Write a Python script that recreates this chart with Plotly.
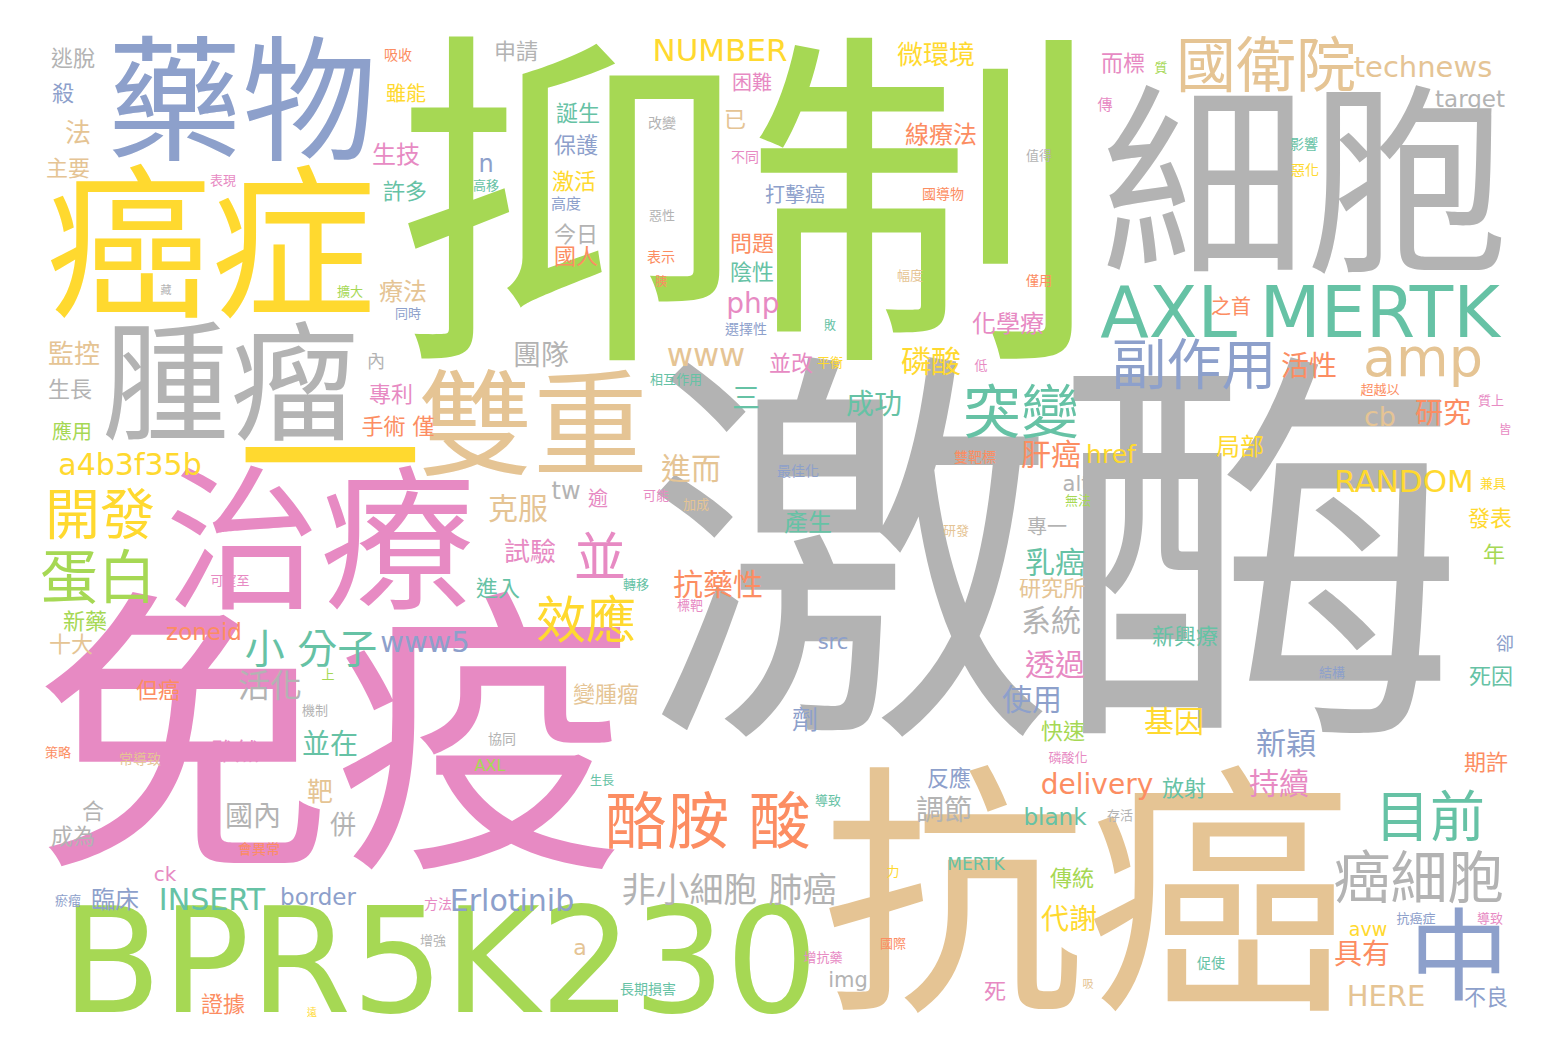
import plotly.graph_objects as go

# Set2 palette used by the word cloud
palette = {
    't': '#66c2a5', 'o': '#fc8d62', 'b': '#8da0cb', 'p': '#e78ac3',
    'g': '#a6d854', 'y': '#ffd92f', 'n': '#e5c494', 'a': '#b3b3b3',
}

# words
words = [
    '抑制', '激酶', '免疫', '抗癌', 'BPR5K230', '細胞', '藥物', '癌症', '腫瘤', '一',
    '治療', '雙重', 'AXL MERTK', '中', '國衛院', '副作用', 'amp', '突變', '酪胺 酸', '目前',
    '癌細胞', '開發', '蛋白', '並', '效應', '小 分子', '非小細胞 肺癌', 'a4b3f35b', 'technews', 'NUMBER',
    '活化', '抗藥性', '進而', '克服', '磷酸', '團隊', 'www', '成功', '三', '肝癌',
    '乳癌', '系統', '透過', '使用', '基因', '新穎', '持續', 'delivery', '調節', '代謝',
    '具有', 'HERE', 'INSERT', 'Erlotinib', 'www5', 'RANDOM', '研究', '活性', 'php', '微環境',
    '線療法', '化學療', '國內', '並在', '監控', '法', '試驗', 'tw', 'cb', '劑',
    '靶', '併', '生技', '療法', '產生', '局部', 'href', '臨床', 'border', '雖然',
    '新興療', '逃脫', '殺', '主要', '雖能', '許多', '申請', '誕生', '保護', '激活',
    '今日', '國人', '困難', '已', '打擊癌', '問題', '陰性', '而標', 'target', '之首',
    '生長', '專利', '手術 僅', '應用', '並改', '發表', '年', '死因', '新藥', 'zoneid',
    '十大', '但癌', '變腫瘤', '快速', '期許', '反應', '放射', 'blank', '合', '成為',
    '傳統', 'a', 'img', '死', '不良', '證據', '進入', 'n', '逾', 'alt',
    '專一', '研究所', 'src', 'ck', '內', '卻', 'avw', '高度', '傳', '吸收',
    '改變', '表示', '不同', '選擇性', '國導物', '影響', '惡化', '最佳化', '雙靶標', '協同',
    '常導致', '會異常', 'MERTK', '方法', '促使', '長期損害', '表現', '高移', '惡性', '值得',
    '幅度', '僅用', '質', '超越以', '質上', '兼具', '結構', '擴大', '同時', '相互作用',
    '平衡', '低', '可能', '加成', '無法', '研發', '可望至', '轉移', '標靶', '上',
    '機制', '策略', '磷酸化', 'AXL', '生長', '導致', '存活', '力', '瘀瘤', '抗癌症',
    '導致', '增強', '國際', '增抗藥', '吸', '遠', '胰', '敗', '皆', '藏',
]

# where each word sits in the 1548 x 1052 canvas
x_pos = [
    737, 1047, 325, 1078, 432, 1298, 234, 203, 222, 322,
    312, 525, 1292, 1451, 1258, 1186, 1415, 1013, 700, 1422,
    1411, 92, 90, 592, 578, 303, 721, 122, 1415, 712,
    262, 710, 683, 510, 923, 533, 698, 866, 738, 1043,
    1047, 1043, 1047, 1024, 1166, 1278, 1271, 1089, 936, 1061,
    1354, 1378, 204, 504, 417, 1396, 1435, 1301, 745, 928,
    933, 1000, 245, 322, 66, 70, 522, 558, 1372, 797,
    312, 335, 388, 395, 800, 1232, 1103, 107, 310, 227,
    1177, 65, 55, 60, 398, 397, 508, 570, 568, 566,
    568, 568, 744, 727, 787, 744, 744, 1115, 1462, 1223,
    62, 383, 390, 64, 783, 1482, 1486, 1483, 77, 196,
    63, 150, 598, 1055, 1478, 941, 1176, 1047, 85, 65,
    1064, 572, 840, 987, 1478, 215, 490, 478, 590, 1068,
    1039, 1044, 825, 157, 368, 1497, 1360, 558, 1097, 390,
    654, 653, 737, 738, 935, 1296, 1297, 790, 967, 494,
    132, 251, 968, 430, 1203, 640, 215, 478, 654, 1031,
    902, 1031, 1153, 1372, 1483, 1485, 1324, 342, 400, 668,
    822, 973, 648, 688, 1070, 948, 222, 628, 682, 320,
    307, 50, 1060, 482, 594, 820, 1112, 885, 60, 1408,
    1482, 425, 885, 815, 1080, 304, 653, 822, 1497, 158,
]
y_pos = [
    222, 576, 750, 905, 962, 190, 103, 248, 385, 465,
    543, 425, 308, 955, 62, 360, 352, 408, 818, 812,
    873, 510, 573, 553, 615, 643, 884, 458, 61, 44,
    680, 578, 462, 502, 355, 349, 349, 398, 392, 448,
    556, 614, 658, 693, 715, 737, 777, 778, 804, 913,
    948, 990, 893, 894, 636, 475, 407, 360, 297, 48,
    128, 317, 810, 738, 347, 126, 545, 484, 410, 713,
    785, 818, 148, 285, 516, 440, 448, 893, 890, 745,
    630, 52, 87, 162, 87, 185, 45, 107, 139, 175,
    228, 250, 76, 113, 188, 237, 266, 57, 92, 300,
    383, 388, 420, 425, 357, 512, 548, 670, 615, 625,
    638, 684, 688, 725, 756, 772, 782, 810, 805, 830,
    872, 941, 973, 985, 991, 998, 582, 157, 492, 477,
    520, 582, 635, 867, 355, 637, 922, 197, 98, 48,
    116, 250, 150, 322, 187, 137, 163, 464, 450, 732,
    752, 842, 857, 897, 956, 982, 173, 178, 208, 148,
    268, 273, 60, 382, 393, 476, 665, 284, 306, 372,
    355, 358, 488, 497, 493, 523, 573, 577, 598, 667,
    703, 745, 750, 758, 774, 793, 808, 864, 893, 911,
    911, 933, 936, 950, 977, 1005, 275, 319, 423, 283,
]

# word weight, drawn as font size in px
weights = [
    352, 412, 300, 265, 146, 205, 135, 165, 128, 185,
    155, 115, 71, 100, 60, 55, 54, 58, 62, 55,
    57, 55, 58, 52, 50, 40, 34, 30, 29, 31,
    32, 30, 30, 30, 30, 28, 32, 28, 28, 30,
    30, 30, 30, 30, 30, 30, 30, 28, 28, 28,
    28, 29, 30, 30, 29, 31, 28, 28, 28, 26,
    24, 24, 28, 28, 26, 26, 26, 24, 27, 26,
    26, 26, 24, 24, 24, 24, 25, 24, 23, 24,
    22, 22, 22, 22, 20, 22, 22, 22, 22, 22,
    22, 22, 20, 22, 20, 22, 22, 22, 23, 20,
    22, 22, 22, 20, 22, 22, 22, 22, 22, 23,
    22, 22, 22, 22, 22, 22, 22, 23, 22, 22,
    22, 22, 21, 22, 22, 22, 22, 24, 20, 21,
    20, 22, 21, 20, 18, 18, 19, 15, 15, 14,
    14, 14, 14, 14, 14, 14, 14, 14, 14, 14,
    14, 14, 17, 14, 14, 14, 13, 13, 13, 13,
    13, 13, 13, 13, 13, 13, 13, 13, 13, 13,
    13, 13, 13, 13, 13, 13, 13, 13, 13, 13,
    13, 13, 13, 16, 12, 13, 13, 13, 13, 13,
    13, 13, 13, 13, 11, 10, 12, 12, 12, 11,
]

hues = [
    'g', 'a', 'p', 'n', 'g', 'a', 'b', 'y', 'a', 'y',
    'p', 'n', 't', 'b', 'n', 'b', 'n', 't', 'o', 't',
    'a', 'y', 'g', 'p', 'y', 't', 'a', 'y', 'n', 'y',
    'a', 'o', 'n', 'n', 'y', 'a', 'n', 't', 't', 'o',
    't', 'a', 'p', 'b', 'y', 'b', 'p', 'o', 'a', 'y',
    'o', 'n', 't', 'b', 'b', 'y', 'o', 'o', 'p', 'y',
    'o', 'p', 'a', 't', 'n', 'n', 'p', 'a', 'n', 'b',
    'n', 'a', 'p', 'n', 't', 'y', 'y', 'b', 'b', 'p',
    't', 'a', 'b', 'n', 'y', 't', 'a', 't', 'b', 'y',
    'a', 'o', 'p', 'n', 'b', 'o', 't', 'p', 'a', 'o',
    'a', 'p', 'o', 'g', 'p', 'y', 'g', 't', 'g', 'o',
    'n', 'o', 'n', 'g', 'o', 'b', 't', 't', 'a', 'a',
    'g', 'n', 'a', 'p', 'b', 'o', 't', 'b', 'p', 'a',
    'a', 'n', 'b', 'p', 'a', 'b', 'y', 'b', 'p', 'o',
    'a', 'o', 'p', 'b', 'o', 't', 'y', 'b', 'o', 'a',
    'n', 'o', 't', 'p', 't', 't', 'p', 't', 'a', 'a',
    'n', 'o', 'g', 'o', 'p', 'y', 'b', 'g', 'b', 't',
    'y', 'p', 'p', 'n', 'g', 'n', 'p', 't', 'p', 'g',
    'a', 'o', 'p', 'g', 't', 't', 'a', 'y', 'b', 'b',
    'p', 'a', 'o', 'p', 'n', 'y', 'o', 't', 'p', 'a',
]

# plotly puts the baseline a bit high for these glyphs, nudge each word down
# in proportion to its font size so the glyphs are centred on their spot
y_drawn = [y + 0.04 * s for y, s in zip(y_pos, weights)]

fig = go.Figure(
    go.Scatter(
        x=x_pos,
        y=y_drawn,
        mode='text',
        text=words,
        textposition='middle center',
        textfont=dict(
            family='DejaVu Sans, Noto Sans CJK TC',
            size=weights,
            color=[palette[h] for h in hues],
        ),
        hoverinfo='skip',
    )
)

fig.update_layout(
    width=1548,
    height=1052,
    margin=dict(l=0, r=0, t=0, b=0),
    paper_bgcolor='white',
    plot_bgcolor='white',
    showlegend=False,
    xaxis=dict(range=[0, 1548], visible=False, fixedrange=True),
    yaxis=dict(range=[1052, 0], visible=False, fixedrange=True),
)

fig.write_html("out.html")
